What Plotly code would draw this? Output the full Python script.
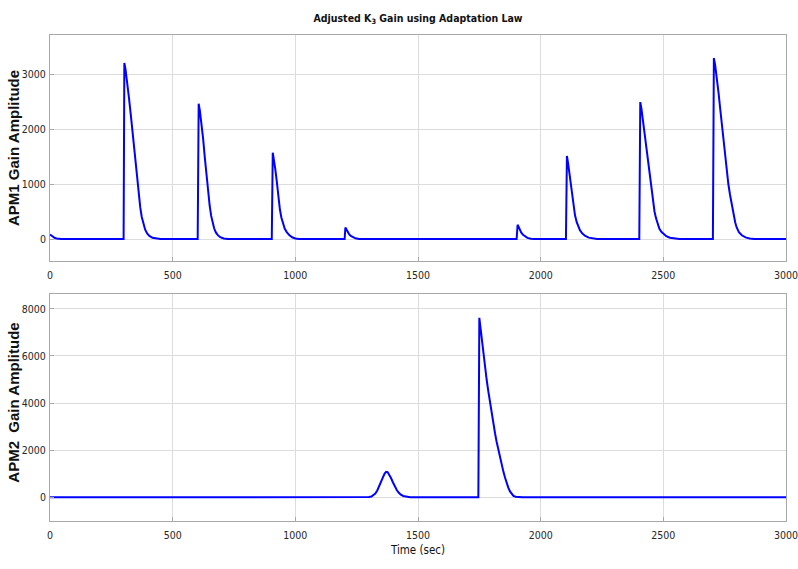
import plotly.graph_objects as go
from plotly.subplots import make_subplots

# ---- data ----
t1 = [0, 5, 10, 15, 20, 27, 35, 45,
      300, 303, 308, 315, 322, 330, 337, 344, 350, 356, 362, 368, 374, 380, 388, 396, 405, 418, 435, 450,
      602, 606, 611, 617, 624, 631, 639, 645, 651, 657, 663, 669, 676, 684, 694, 708, 725,
      904, 908, 913, 918, 924, 931, 937, 943, 950, 957, 965, 975, 987, 1000, 1015,
      1201, 1204, 1208, 1213, 1219, 1226, 1234, 1245, 1260,
      1902, 1906, 1910, 1915, 1921, 1928, 1936, 1946, 1960, 1975,
      2103, 2107, 2112, 2118, 2125, 2133, 2140, 2147, 2154, 2160, 2170, 2182, 2196, 2212, 2230,
      2402, 2406, 2411, 2417, 2424, 2431, 2438, 2446, 2452, 2458, 2464, 2470, 2476, 2484, 2492,
      2500, 2512, 2527, 2545, 2565,
      2702, 2706, 2711, 2718, 2725, 2732, 2739, 2745, 2752, 2759, 2765, 2772, 2779, 2786, 2793,
      2799, 2808, 2820, 2835, 2852, 2870,
      3000]
g1 = [80, 60, 42, 28, 17, 8, 3, 0,
      0, 3200, 3080, 2850, 2560, 2230, 1930, 1600, 1310, 1030, 780, 570, 400, 280, 170, 100, 55, 22, 6, 0,
      0, 2460, 2330, 2120, 1830, 1480, 1100, 830, 600, 420, 290, 195, 120, 70, 32, 10, 0,
      0, 1570, 1450, 1280, 1060, 750, 540, 390, 270, 185, 125, 72, 32, 10, 0,
      0, 210, 175, 130, 90, 55, 30, 12, 0,
      0, 260, 215, 165, 115, 75, 45, 20, 5, 0,
      0, 1510, 1370, 1150, 880, 610, 430, 305, 220, 160, 100, 55, 25, 8, 0,
      0, 2490, 2360, 2150, 1870, 1580, 1330, 1080, 860, 660, 500, 380, 280, 185, 130,
      95, 52, 24, 8, 0,
      0, 3290, 3170, 2950, 2660, 2360, 2060, 1800, 1500, 1220, 1000, 800, 610, 440, 300,
      210, 125, 68, 30, 10, 0,
      0]

t2 = [0, 1290, 1300, 1310, 1318, 1326, 1334, 1342, 1350, 1357, 1364, 1370, 1376, 1383,
      1390, 1398, 1406, 1414, 1422, 1430, 1440, 1452, 1468, 1485,
      1746, 1750, 1755, 1760, 1767, 1774, 1780, 1787, 1794, 1800, 1807, 1814, 1820, 1827,
      1834, 1841, 1848, 1855, 1861, 1868, 1875, 1882, 1889, 1898, 1910, 1925, 3000]
g2 = [0, 0, 10, 35, 80, 160, 290, 460, 660, 850, 1010, 1085, 1070, 970,
      820, 630, 450, 300, 190, 110, 55, 20, 5, 0,
      0, 7620, 7150, 6700, 6100, 5450, 4980, 4480, 3980, 3560, 3140, 2720, 2380, 2040,
      1720, 1390, 1090, 830, 610, 410, 250, 135, 60, 22, 5, 0, 0]

x_ticks = [0, 500, 1000, 1500, 2000, 2500, 3000]
y1_ticks = [0, 1000, 2000, 3000]
y2_ticks = [0, 2000, 4000, 6000, 8000]

title_text = "Adjusted K<sub>3</sub> Gain using Adaptation Law"
y1_title = "APM1 Gain Amplitude"
y2_title = "APM2\u00a0 Gain Amplitude"
x_title = "Time (sec)"

# ---- figure ----
W, H = 798, 569
L, R, T, B = 50, 12, 35, 48
narrow = "DejaVu Sans Condensed, Liberation Sans, Arial"

fig = make_subplots(rows=2, cols=1, shared_xaxes=False, vertical_spacing=0.068)

fig.add_trace(go.Scatter(x=t1, y=g1, mode="lines",
                         line=dict(color="#0000ff", width=2)), row=1, col=1)
fig.add_trace(go.Scatter(x=t2, y=g2, mode="lines",
                         line=dict(color="#0000ff", width=2)), row=2, col=1)

axis_common = dict(showline=True, mirror=True, linecolor="#a8a8a8", linewidth=1,
                   showgrid=True, gridcolor="#dcdcdc", gridwidth=1,
                   zeroline=False, ticks="inside", ticklen=4, tickcolor="#a8a8a8",
                   automargin=False, ticklabeloverflow="allow",
                   tickfont=dict(family=narrow, size=10.5, color="#262626"))

fig.update_xaxes(range=[0, 3000], tickvals=x_ticks, ticklabelstandoff=4, **axis_common)
fig.update_yaxes(ticklabelstandoff=1, **axis_common)
fig.update_yaxes(range=[-400, 3710], tickvals=y1_ticks, domain=[0.535, 1.0], row=1, col=1)
fig.update_yaxes(range=[-1006, 8630], tickvals=y2_ticks, domain=[0.0, 0.467], row=2, col=1)
fig.update_xaxes(title=dict(text=x_title, standoff=6,
                            font=dict(family=narrow, size=11.5, color="#111111")),
                 row=2, col=1)

plot_w = W - L - R
ylab_x = (14 - L) / plot_w
ylab_font = dict(family="Liberation Sans, Arial", size=15, color="#111111")
fig.add_annotation(text="<b>" + y1_title + "</b>", textangle=-90, showarrow=False,
                   xref="paper", yref="paper", x=ylab_x, y=(0.535 + 1.0) / 2,
                   xanchor="center", yanchor="middle", font=ylab_font)
fig.add_annotation(text="<b>" + y2_title + "</b>", textangle=-90, showarrow=False,
                   xref="paper", yref="paper", x=ylab_x, y=0.467 / 2 + 0.01,
                   xanchor="center", yanchor="middle", font=ylab_font)

fig.update_layout(
    width=W, height=H,
    margin=dict(l=L, r=R, t=T, b=B),
    paper_bgcolor="white", plot_bgcolor="white",
    showlegend=False,
    title=dict(text="<b>" + title_text + "</b>", xref="container", x=(L + plot_w / 2) / W,
               xanchor="center", y=1 - 18 / H, yanchor="middle",
               font=dict(family=narrow, size=10.5, color="#111111")),
)

fig.write_html("out.html", config={"displayModeBar": False},
               post_script="document.body.style.margin='0';document.body.style.overflow='hidden';")
